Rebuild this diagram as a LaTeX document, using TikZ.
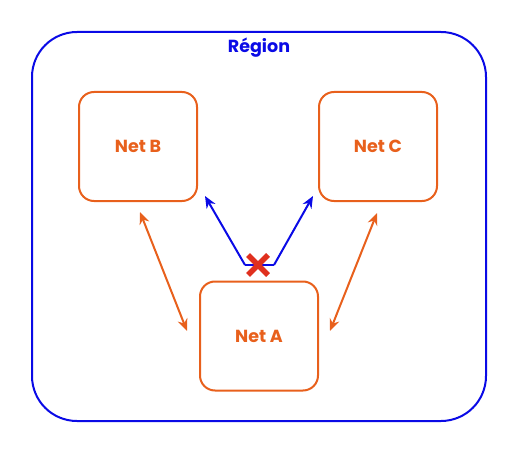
\documentclass[tikz,border=0pt]{standalone}
\usepackage{fontspec}
\setmainfont{Poppins}
\usetikzlibrary{arrows.meta,calc}
\definecolor{netorange}{HTML}{E8601C}
\definecolor{regblue}{HTML}{0A0AE6}
\definecolor{xred}{HTML}{E0301E}
\tikzset{
  netbox/.style={draw=netorange, line width=2pt, rounded corners=15pt, minimum width=118pt, minimum height=109pt, text=netorange, font=\bfseries\fontsize{17.5}{20}\selectfont},
  netlink/.style={draw=netorange, line width=2pt, {Stealth[length=12pt,width=10pt]}-{Stealth[length=12pt,width=10pt]}},
  bluelink/.style={draw=regblue, line width=2pt, -{Stealth[length=12pt,width=10pt]}}
}
\begin{document}
\begin{tikzpicture}[x=1pt,y=-1pt]
\useasboundingbox (0,0) rectangle (517,452);
\draw[regblue, line width=2pt, rounded corners=45pt] (32,32) rectangle (486,421);
\node[text=regblue, font=\bfseries\fontsize{17.5}{20}\selectfont] (reg) at (259,48) {Région};
\node[netbox] (b) at (138,146.5) {Net B};
\node[netbox] (c) at (378,146.5) {Net C};
\node[netbox] (a) at (259,336) {Net A};
\coordinate (al) at (187,331);
\coordinate (bl) at (140,212);
\coordinate (ar) at (330,331);
\coordinate (cr) at (377,213);
\draw[netlink] (bl) -- (al);
\draw[netlink] (cr) -- (ar);
\coordinate (bt) at (205,196);
\coordinate (ct) at (313,196);
\coordinate (m1) at (245,265);
\coordinate (m2) at (274,265);
\draw[bluelink] (m1) -- (bt);
\draw[bluelink] (m2) -- (ct);
\draw[regblue, line width=2pt] (m1) -- (m2);
\coordinate (x) at (258,265);
\draw[xred, line width=5.5pt] ($(x)+(-10,-10)$) -- ($(x)+(10,10)$) ($(x)+(10,-10)$) -- ($(x)+(-10,10)$);
\end{tikzpicture}
\end{document}
